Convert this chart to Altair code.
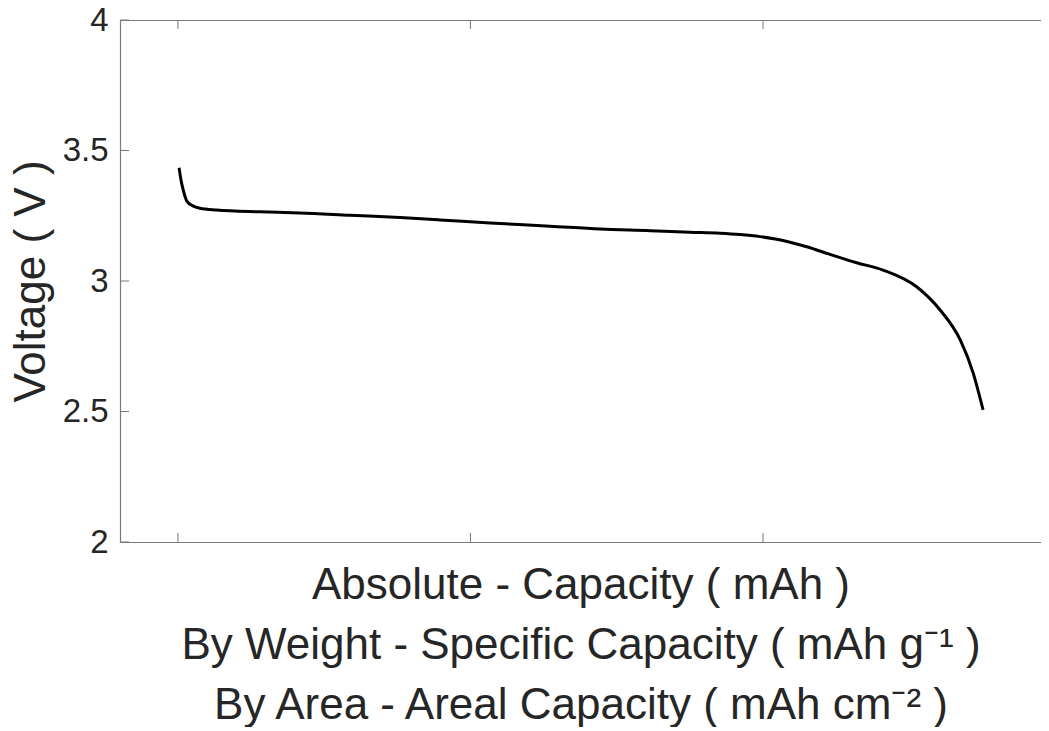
import altair as alt
import pandas as pd

# Discharge curve (capacity in arbitrary units: ticks at 0, 1, 2)
capacity = [0.004, 0.010, 0.018, 0.031, 0.051, 0.075, 0.132, 0.280, 0.417, 0.588,
            0.759, 0.896, 1.067, 1.272, 1.443, 1.614, 1.750, 1.853, 1.921, 1.990,
            2.047, 2.149, 2.229, 2.320, 2.410, 2.526, 2.605, 2.674, 2.718, 2.752]
voltage = [3.434, 3.390, 3.349, 3.305, 3.288, 3.279, 3.272, 3.265, 3.261, 3.252,
           3.243, 3.234, 3.222, 3.210, 3.199, 3.193, 3.187, 3.183, 3.178, 3.170,
           3.160, 3.131, 3.102, 3.070, 3.042, 2.977, 2.889, 2.774, 2.648, 2.506]

x_ticks = [0, 1, 2]
y_ticks = [2, 2.5, 3, 3.5, 4]
x_domain = [-0.198, 2.95]
y_domain = [2, 4]

x_title = ["Absolute - Capacity ( mAh )",
           "By Weight - Specific Capacity ( mAh g\u207b\u00b9 )",
           "By Area - Areal Capacity ( mAh cm\u207b\u00b2 )"]
y_title = "Voltage ( V )"

W, H = 921, 522
FONT = "Liberation Sans"
AX = "#7a7a7a"
TXT = "#262626"

df = pd.DataFrame({"cap": capacity, "v": voltage})
xt = pd.DataFrame({"t": x_ticks})
yt = pd.DataFrame({"t": y_ticks})

xscale = alt.Scale(domain=x_domain, nice=False, zero=False)
yscale = alt.Scale(domain=y_domain, nice=False, zero=False)

line = alt.Chart(df).mark_line(color="black", strokeWidth=3, interpolate="monotone").encode(
    x=alt.X("cap:Q", scale=xscale,
            axis=alt.Axis(title=x_title, labels=False, ticks=False, grid=False,
                          domainColor=AX, domainWidth=1.2,
                          titleFont=FONT, titleFontSize=44, titleFontWeight="normal",
                          titleColor=TXT, titleLineHeight=60, titlePadding=21)),
    y=alt.Y("v:Q", scale=yscale,
            axis=alt.Axis(title=y_title, values=y_ticks, format="~g", ticks=False, grid=False,
                          domainColor=AX, domainWidth=1.2,
                          labelFont=FONT, labelFontSize=33, labelColor=TXT, labelPadding=12,
                          titleFont=FONT, titleFontSize=44, titleFontWeight="normal",
                          titleColor=TXT, titlePadding=9)),
)

top = alt.Chart(xt).mark_rule(color=AX, strokeWidth=1).encode(
    x=alt.X("t:Q", scale=xscale,
            axis=alt.Axis(orient="top", title=None, labels=False, ticks=False, grid=False,
                          domainColor=AX, domainWidth=1.2)),
    y=alt.value(0), y2=alt.value(9),
)
bottom_ticks = alt.Chart(xt).mark_rule(color=AX, strokeWidth=1).encode(
    x=alt.X("t:Q", scale=xscale, axis=None), y=alt.value(H), y2=alt.value(H - 9),
)
left_ticks = alt.Chart(yt).mark_rule(color=AX, strokeWidth=1).encode(
    y=alt.Y("t:Q", scale=yscale, axis=None), x=alt.value(0), x2=alt.value(9),
)

chart = alt.layer(line, top, bottom_ticks, left_ticks).resolve_axis(
    x="independent", y="independent"
).properties(
    width=W, height=H,
    autosize=alt.AutoSizeParams(type="none"),
    padding={"left": 112, "top": 12, "right": 0, "bottom": 185},
).configure_view(stroke=None).configure(background="white")

chart.save("out.html", embed_options={"renderer": "svg", "actions": False})
